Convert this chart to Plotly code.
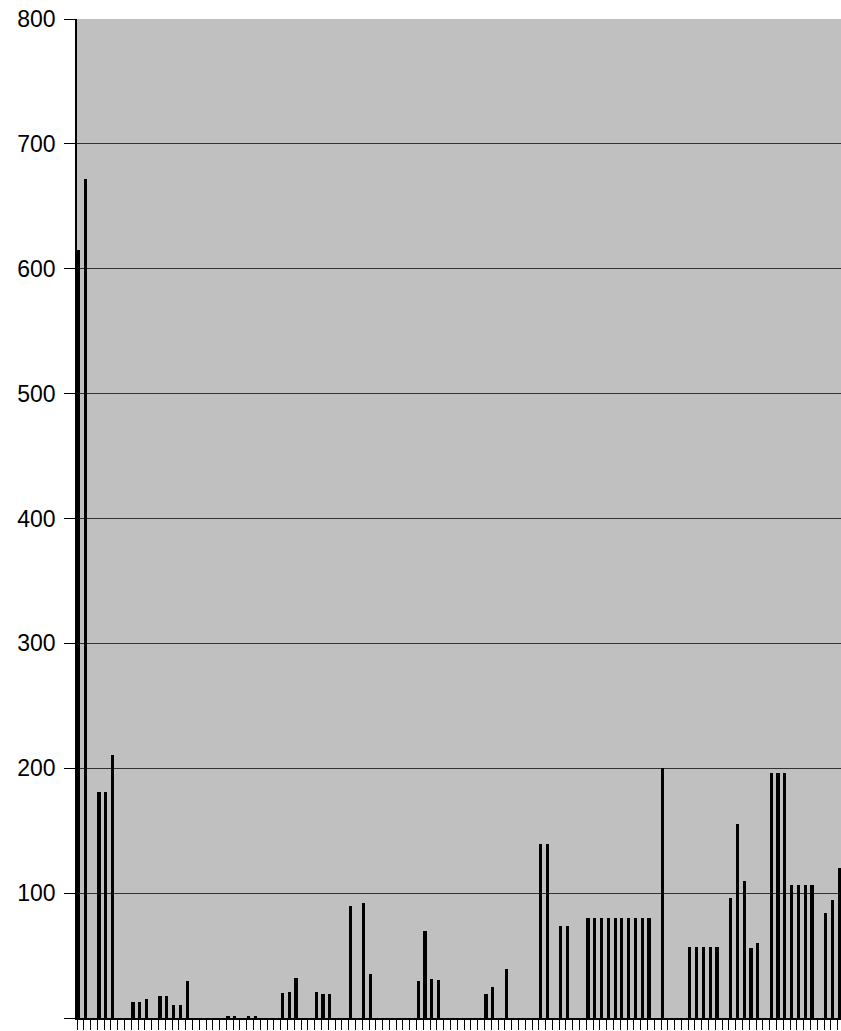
import plotly.graph_objects as go

# Category index (0..112) and bar values
categories = list(range(113))
values = [
    615, 672, 0, 181, 181, 211, 0, 0, 12.5, 12.5,      # 0-9
    15.5, 0, 18, 18, 10.5, 10.5, 29.5, 0, 0, 0,         # 10-19
    0, 0, 1.5, 1.5, 0, 1.5, 1.5, 0, 0, 0,               # 20-29
    20, 21, 32, 0, 0, 20.5, 19, 19, 0, 0,               # 30-39
    89.5, 0, 92, 35, 0, 0, 0, 0, 0, 0,                  # 40-49
    29.5, 69.5, 31, 30.5, 0, 0, 0, 0, 0, 0,             # 50-59
    19.5, 24.5, 0, 39.5, 0, 0, 0, 0, 139, 139,          # 60-69
    0, 73.5, 73.5, 0, 0, 80, 80, 80, 80, 80,            # 70-79
    80, 80, 80, 80, 80, 0, 200, 0, 0, 0,                # 80-89
    56.5, 56.5, 56.5, 56.5, 56.5, 0, 96.5, 155.5, 109.5, 56,  # 90-99
    60, 0, 196, 196, 196, 106.5, 106.5, 106.5, 106.5, 0,      # 100-109
    84, 94.5, 120.5,                                    # 110-112
]
y_ticks = [0, 100, 200, 300, 400, 500, 600, 700, 800]

fig = go.Figure()
fig.add_trace(go.Bar(
    x=categories,
    y=values,
    width=0.47,
    offset=0.0,
    marker=dict(color="black", line=dict(width=0)),
    showlegend=False,
))

fig.update_layout(
    width=841,
    height=1031,
    margin=dict(l=77, r=0, t=19, b=13, autoexpand=False),
    paper_bgcolor="white",
    plot_bgcolor="#C0C0C0",
    bargap=0,
    font=dict(family="Liberation Sans, Arial, sans-serif", size=23, color="black"),
)

fig.update_xaxes(
    range=[0, 112.5],
    tickmode="array",
    tickvals=categories,
    showticklabels=False,
    ticks="outside",
    ticklen=10,
    tickwidth=1,
    tickcolor="black",
    showgrid=False,
    zeroline=False,
    showline=True,
    linecolor="black",
    linewidth=1.5,
    automargin=False,
)

fig.update_yaxes(
    range=[0, 800],
    tickmode="array",
    tickvals=y_ticks,
    ticktext=[str(v) for v in y_ticks],
    ticks="outside",
    ticklen=11,
    tickwidth=1,
    tickcolor="black",
    ticklabelstandoff=4,
    showgrid=True,
    gridcolor="#333333",
    gridwidth=1,
    zeroline=False,
    showline=True,
    linecolor="black",
    linewidth=1.5,
    tickfont=dict(size=23, color="black"),
    automargin=False,
)

fig.write_html(
    "out.html",
    config={"displayModeBar": False},
    post_script="document.body.style.margin='0';document.body.style.overflow='hidden';",
)
